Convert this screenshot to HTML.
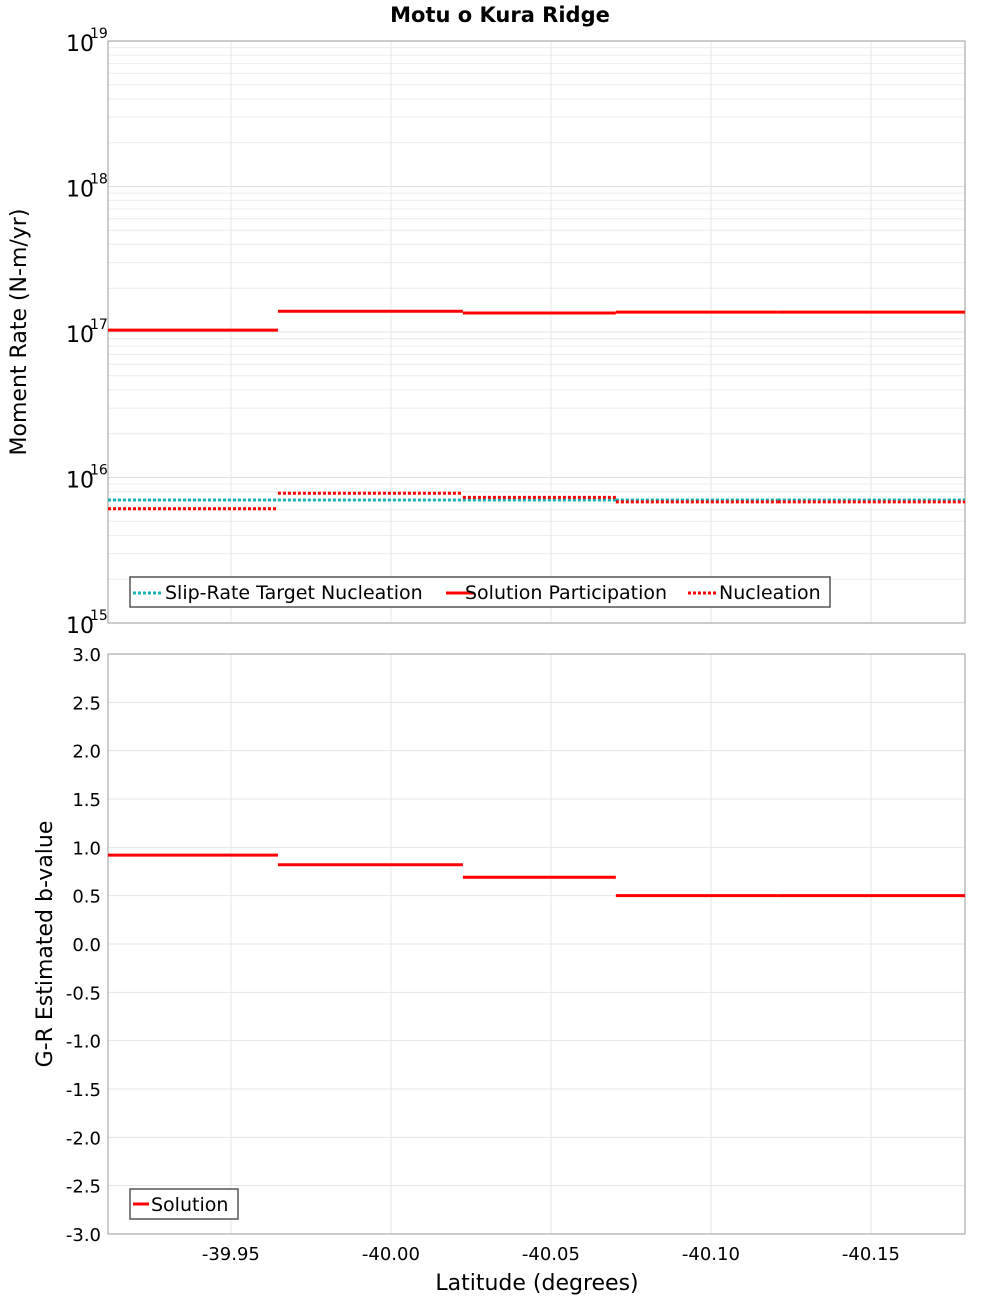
<!DOCTYPE html>
<html><head><meta charset="utf-8"><style>
body{margin:0;background:#fff;width:1000px;height:1300px;overflow:hidden;font-family:"DejaVu Sans","Liberation Sans",sans-serif}
</style></head><body>
<svg id="chart" width="1000" height="1300" xmlns="http://www.w3.org/2000/svg" font-family="DejaVu Sans, Liberation Sans, sans-serif">
<text x="500" y="22" text-anchor="middle" font-size="21" font-weight="bold">Motu o Kura Ridge</text>
<g id="topPlot"></g><g id="botPlot"></g>
</svg>
<script>
const segStarts=[-39.9116,-39.9647,-40.0225,-40.0703,-40.1209];
const segEnds=[-39.9647,-40.0225,-40.0703,-40.1209,-40.1794];
const participation=[1.03e17,1.39e17,1.35e17,1.37e17,1.37e17];
const slipTarget=[7.0e15,7.0e15,7.0e15,7.0e15,7.0e15];
const nucleation=[6.1e15,7.8e15,7.3e15,6.8e15,6.8e15];
const bValues=[0.92,0.82,0.69,0.50,0.50];
const xTicks=[-39.95,-40.00,-40.05,-40.10,-40.15];
const xTickLabels=["-39.95","-40.00","-40.05","-40.10","-40.15"];
const yTicksLog=[15,16,17,18,19];
const bTicks=[-3,-2.5,-2,-1.5,-1,-0.5,0,0.5,1,1.5,2,2.5,3];

const NS="http://www.w3.org/2000/svg";
const L=108,R=965,T1=41,B1=623,T2=654,B2=1234;
const xMin=-39.9116,xMax=-40.1794;
const X=v=>L+(v-xMin)/(xMax-xMin)*(R-L);
const YL=v=>B1-(Math.log10(v)-15)/4*(B1-T1);
const YB=v=>B2-(v+3)/6*(B2-T2);
function mk(p,tag,a,txt){const e=document.createElementNS(NS,tag);for(const k in a)e.setAttribute(k,a[k]);if(txt!==undefined)e.textContent=txt;p.appendChild(e);return e;}
const topG=document.getElementById('topPlot'),botG=document.getElementById('botPlot');
mk(topG,'rect',{x:L,y:T1,width:R-L,height:B1-T1,fill:'#fff'});
mk(botG,'rect',{x:L,y:T2,width:R-L,height:B2-T2,fill:'#fff'});
for(let d=15;d<19;d++)for(let m=2;m<=9;m++){const y=YL(m*Math.pow(10,d));const g=mk(topG,'line',{x1:L,x2:R,y1:y,y2:y,stroke:'#ececec','stroke-width':1});

}
yTicksLog.forEach(d=>{const y=YL(Math.pow(10,d));const g=mk(topG,'line',{x1:L,x2:R,y1:y,y2:y,stroke:'#e0e0e0'});


const t=mk(topG,'text',{x:L-14,y:y+10,'text-anchor':'end','font-size':22},'10');


const s=mk(topG,'text',{x:L-18,y:y-3,'font-size':14},String(d));

});
bTicks.forEach(v=>{const y=YB(v);const g=mk(botG,'line',{x1:L,x2:R,y1:y,y2:y,stroke:'#e6e6e6'});


const t=mk(botG,'text',{x:L-7,y:y+7,'text-anchor':'end','font-size':18},v.toFixed(1));

});
xTicks.forEach((v,i)=>{const x=X(v);[[topG,T1,B1],[botG,T2,B2]].forEach(([p,a,b])=>{const g=mk(p,'line',{x1:x,x2:x,y1:a,y2:b,stroke:'#e6e6e6'});

});
const t=mk(botG,'text',{x:x,y:B2+26,'text-anchor':'middle','font-size':18},xTickLabels[i]);

});
mk(topG,'rect',{x:L,y:T1,width:R-L,height:B1-T1,fill:'none',stroke:'#999'});
mk(botG,'rect',{x:L,y:T2,width:R-L,height:B2-T2,fill:'none',stroke:'#999'});
function seg(p,vals,Y,color,dash,name){vals.forEach((v,i)=>{const l=mk(p,'line',{x1:X(segStarts[i]),x2:X(segEnds[i]),y1:Y(v),y2:Y(v),stroke:color,'stroke-width':3});if(dash)l.setAttribute('stroke-dasharray',dash);

});}
seg(topG,slipTarget,YL,'#1ab3b3','3,2','slip-rate-target');
seg(topG,nucleation,YL,'#ff0000','3,2','nucleation');
seg(topG,participation,YL,'#ff0000',null,'solution-participation');
seg(botG,bValues,YB,'#ff0000',null,'b-value');
const yt=mk(topG,'text',{x:26,y:332,'text-anchor':'middle','font-size':22,transform:'rotate(-90 26 332)'},'Moment Rate (N-m/yr)');


const yb=mk(botG,'text',{x:52,y:944,'text-anchor':'middle','font-size':22,transform:'rotate(-90 52 944)'},'G-R Estimated b-value');


const xt=mk(botG,'text',{x:537,y:1290,'text-anchor':'middle','font-size':22},'Latitude (degrees)');


const lg=mk(topG,'g',{});


mk(lg,'rect',{x:130,y:577,width:700,height:30,fill:'#fff',stroke:'#555','stroke-width':1.5});
[[133,'#1ab3b3','3,2','Slip-Rate Target Nucleation',165],[446,'#ff0000',null,'Solution Participation',465],[688,'#ff0000','3,2','Nucleation',719]].forEach(([x,c,d,txt,tx])=>{const l=mk(lg,'line',{x1:x,x2:x+28,y1:593,y2:593,stroke:c,'stroke-width':3});if(d)l.setAttribute('stroke-dasharray',d);
const t=mk(lg,'text',{x:tx,y:599,'font-size':19},txt);

});
const lg2=mk(botG,'g',{});


mk(lg2,'rect',{x:130,y:1189,width:108,height:30,fill:'#fff',stroke:'#555','stroke-width':1.5});
mk(lg2,'line',{x1:133,x2:149,y1:1204,y2:1204,stroke:'#ff0000','stroke-width':3});
const t2=mk(lg2,'text',{x:151,y:1211,'font-size':19},'Solution');


</script>
</body></html>
